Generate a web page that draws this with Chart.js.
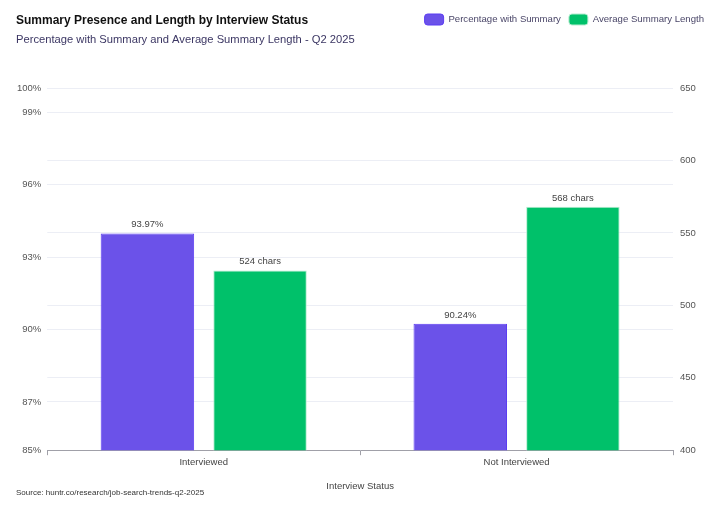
<!DOCTYPE html>
<html>
<head>
<meta charset="utf-8">
<script src="https://cdn.jsdelivr.net/npm/chart.js@4"></script>
<style>
  html, body { margin: 0; padding: 0; background: #fff; }
  #wrap { width: 720px; height: 514px; position: relative; }
</style>
</head>
<body>
<div id="wrap"><canvas id="myChart"></canvas></div>
<script>
var categories = ['Interviewed', 'Not Interviewed'];
var pctWithSummary = [93.97, 90.24];
var avgSummaryLength = [524, 568];
var leftTicks = [85, 87, 90, 93, 96, 99, 100];
var rightTicks = [400, 450, 500, 550, 600, 650];

var FONT = "'Liberation Sans', Arial, Helvetica, sans-serif";

// title, subtitle and source text drawn on the canvas
var headerPlugin = {
  id: 'header',
  beforeInit: function (chart) {
    var fit = chart.legend.fit;
    chart.legend.fit = function () {
      fit.bind(chart.legend)();
      this.height += 53;
    };
  },
  afterDraw: function (chart) {
    var c = chart.ctx;
    c.save();
    c.textAlign = 'left';
    c.textBaseline = 'middle';
    c.fillStyle = '#111111';
    c.font = 'bold 12px ' + FONT;
    c.fillText('Summary Presence and Length by Interview Status', 16, 21);
    c.fillStyle = '#3b3663';
    c.font = '11.2px ' + FONT;
    c.fillText('Percentage with Summary and Average Summary Length - Q2 2025', 16, 40);
    c.fillStyle = '#333333';
    c.font = '8px ' + FONT;
    c.fillText('Source: huntr.co/research/job-search-trends-q2-2025', 16, 493);
    c.restore();
  }
};

// value labels above bars
var valueLabels = {
  id: 'valueLabels',
  afterDatasetsDraw: function (chart) {
    var c = chart.ctx;
    c.save();
    c.font = '9.5px ' + FONT;
    c.fillStyle = '#444444';
    c.textAlign = 'center';
    c.textBaseline = 'bottom';
    chart.data.datasets.forEach(function (ds, i) {
      chart.getDatasetMeta(i).data.forEach(function (bar, j) {
        var v = ds.data[j];
        var txt = i === 0 ? v.toFixed(2) + '%' : v + ' chars';
        c.fillText(txt, bar.x, bar.y - 4);
      });
    });
    c.restore();
  }
};

var ctx = document.getElementById('myChart').getContext('2d');
var myChart = new Chart(ctx, {
  type: 'bar',
  data: {
    labels: categories,
    datasets: [{
      label: 'Percentage with Summary',
      data: pctWithSummary,
      yAxisID: 'y',
      backgroundColor: '#6b52e9',
      borderColor: '#5b3cf2',
      borderWidth: 1,
      categoryPercentage: 0.72,
      barPercentage: 0.83
    }, {
      label: 'Average Summary Length',
      data: avgSummaryLength,
      yAxisID: 'y1',
      backgroundColor: '#00c16a',
      borderColor: '#b5ecd0',
      borderWidth: 1,
      categoryPercentage: 0.72,
      barPercentage: 0.83
    }]
  },
  options: {
    responsive: true,
    maintainAspectRatio: false,
    animation: false,
    layout: { padding: { left: 11, right: 8, top: 6, bottom: 22 } },
    plugins: {
      legend: {
        position: 'top',
        align: 'end',
        labels: {
          color: '#4a4668',
          font: { family: FONT, size: 9.6 },
          boxWidth: 19,
          boxHeight: 11,
          useBorderRadius: true,
          borderRadius: 3,
          padding: 8
        }
      },
      title: { display: false },
      tooltip: { enabled: false }
    },
    scales: {
      x: {
        grid: { display: true, drawOnChartArea: false, drawTicks: true, tickLength: 5, color: '#a0a0a8' },
        border: { display: true, color: '#a0a0a8' },
        ticks: { color: '#444444', font: { family: FONT, size: 9.5 }, padding: 1 },
        title: {
          display: true,
          text: 'Interview Status',
          color: '#444444',
          font: { family: FONT, size: 9.5 },
          padding: { top: 12, bottom: 0 }
        }
      },
      y: {
        position: 'left',
        min: 85,
        max: 100,
        afterBuildTicks: function (scale) {
          scale.ticks = leftTicks.map(function (v) { return { value: v }; });
        },
        grid: { color: '#eceef5', drawTicks: false },
        border: { display: false },
        ticks: {
          color: '#555555',
          font: { family: FONT, size: 9.5 },
          padding: 6,
          callback: function (v) { return v + '%'; }
        }
      },
      y1: {
        position: 'right',
        min: 400,
        max: 650,
        afterBuildTicks: function (scale) {
          scale.ticks = rightTicks.map(function (v) { return { value: v }; });
        },
        afterFit: function (scale) { scale.width = 39; },
        grid: { color: '#eceef5', drawTicks: false },
        border: { display: false },
        ticks: { color: '#555555', font: { family: FONT, size: 9.5 }, padding: 7 }
      }
    }
  },
  plugins: [headerPlugin, valueLabels]
});
</script>
</body>
</html>
